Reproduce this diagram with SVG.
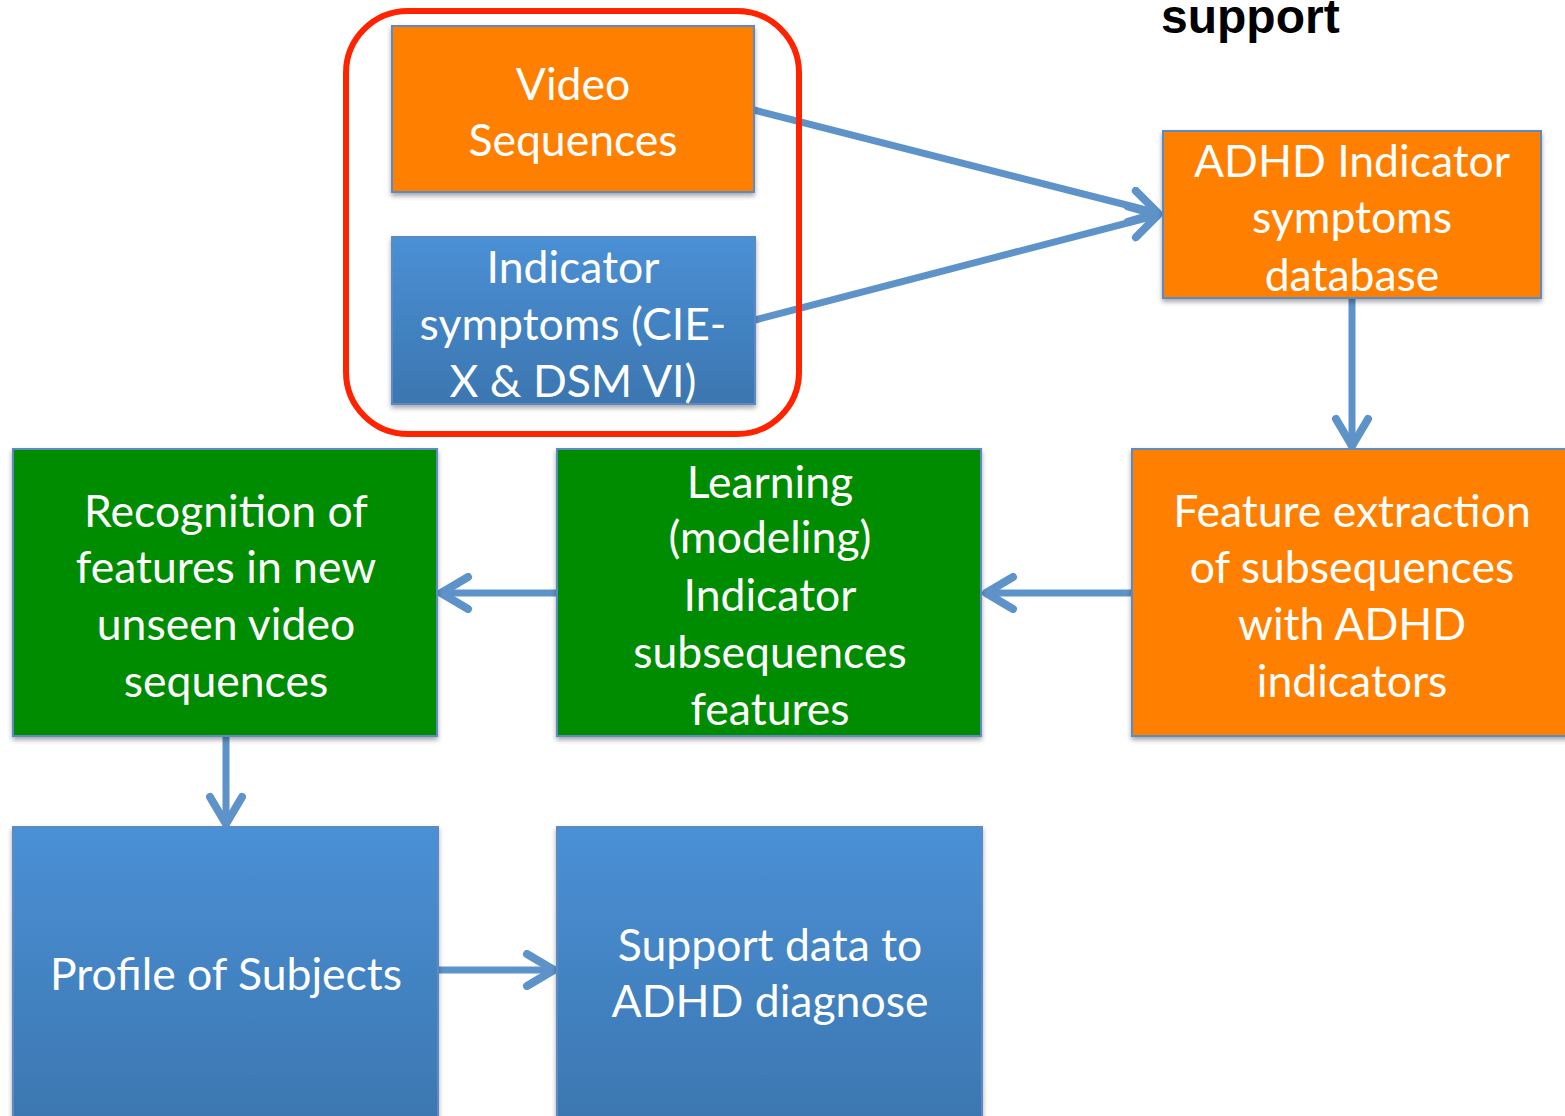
<svg xmlns="http://www.w3.org/2000/svg" width="1565" height="1116" viewBox="0 0 1565 1116">
<defs>
<linearGradient id="blueGrad" x1="0" y1="0" x2="0" y2="1">
<stop offset="0" stop-color="#4A90D5"/>
<stop offset="1" stop-color="#3C76B0"/>
</linearGradient>
<filter id="shadow" x="-5%" y="-5%" width="110%" height="115%">
<feDropShadow dx="0" dy="3" stdDeviation="2.5" flood-color="#000" flood-opacity="0.35"/>
</filter>
<marker id="chev" markerUnits="userSpaceOnUse" viewBox="-34 -20 40 40" refX="0" refY="0" markerWidth="40" markerHeight="40" orient="auto">
<path d="M -27 -16 L 0 0 L -27 16" fill="none" stroke="#5E93C9" stroke-width="8" stroke-linecap="round" stroke-linejoin="round"/>
</marker>
<style>
.box { stroke: #5B8AC4; stroke-width: 2; filter: url(#shadow); }
.orange { fill: #FF7F00; }
.green { fill: #008C00; }
.blue { fill: url(#blueGrad); }
.lbl { font-family: Lato, "Liberation Sans", sans-serif; font-size: 44.5px; fill: #FFFFFF; text-anchor: middle; }
.conn { stroke: #5E93C9; stroke-width: 7; fill: none; marker-end: url(#chev); }
</style>
</defs>
<rect width="1565" height="1116" fill="#FFFFFF"/>
<text x="1161" y="33" font-family="'Liberation Sans', Arial, sans-serif" font-size="48" font-weight="bold" fill="#000">support</text>

<g id="connectors">
<line class="conn" x1="754" y1="110" x2="1158" y2="213"/>
<line class="conn" x1="755" y1="320" x2="1158" y2="215"/>
<line class="conn" x1="1352" y1="298" x2="1352" y2="446"/>
<line class="conn" x1="1132" y1="593" x2="986" y2="593"/>
<line class="conn" x1="557" y1="593" x2="441" y2="593"/>
<line class="conn" x1="226" y1="736" x2="226" y2="824"/>
<line class="conn" x1="438" y1="970" x2="554" y2="970"/>
</g>

<g id="group-input">
<rect x="346" y="11" width="453" height="423" rx="62" ry="62" fill="none" stroke="#FF2300" stroke-width="6"/>
</g>

<g id="video-sequences">
<rect class="box orange" x="392" y="26" width="362" height="166"/>
<text class="lbl" x="573" y="100">Video</text>
<text class="lbl" x="573" y="156">Sequences</text>
</g>

<g id="indicator-symptoms">
<rect class="box blue" x="392" y="237" width="363" height="167"/>
<text class="lbl" x="573" y="283">Indicator</text>
<text class="lbl" x="573" y="340">symptoms (CIE-</text>
<text class="lbl" x="573" y="397">X &amp; DSM VI)</text>
</g>

<g id="adhd-database">
<rect class="box orange" x="1163" y="131" width="378" height="167"/>
<text class="lbl" x="1352" y="177">ADHD Indicator</text>
<text class="lbl" x="1352" y="233">symptoms</text>
<text class="lbl" x="1352" y="291">database</text>
</g>

<g id="feature-extraction">
<rect class="box orange" x="1132" y="449" width="440" height="287"/>
<text class="lbl" x="1352" y="527">Feature extraction</text>
<text class="lbl" x="1352" y="583">of subsequences</text>
<text class="lbl" x="1352" y="640">with ADHD</text>
<text class="lbl" x="1352" y="697">indicators</text>
</g>

<g id="learning">
<rect class="box green" x="557" y="449" width="424" height="287"/>
<text class="lbl" x="770" y="498">Learning</text>
<text class="lbl" x="770" y="553">(modeling)</text>
<text class="lbl" x="770" y="611">Indicator</text>
<text class="lbl" x="770" y="668">subsequences</text>
<text class="lbl" x="770" y="725">features</text>
</g>

<g id="recognition">
<rect class="box green" x="13" y="449" width="424" height="287"/>
<text class="lbl" x="226" y="527">Recognition of</text>
<text class="lbl" x="226" y="583">features in new</text>
<text class="lbl" x="226" y="640">unseen video</text>
<text class="lbl" x="226" y="697">sequences</text>
</g>

<g id="profile-subjects">
<rect class="box blue" x="13" y="827" width="425" height="300"/>
<text class="lbl" x="226" y="990">Profile of Subjects</text>
</g>

<g id="support-data">
<rect class="box blue" x="557" y="827" width="425" height="300"/>
<text class="lbl" x="770" y="961">Support data to</text>
<text class="lbl" x="770" y="1017">ADHD diagnose</text>
</g>
</svg>
